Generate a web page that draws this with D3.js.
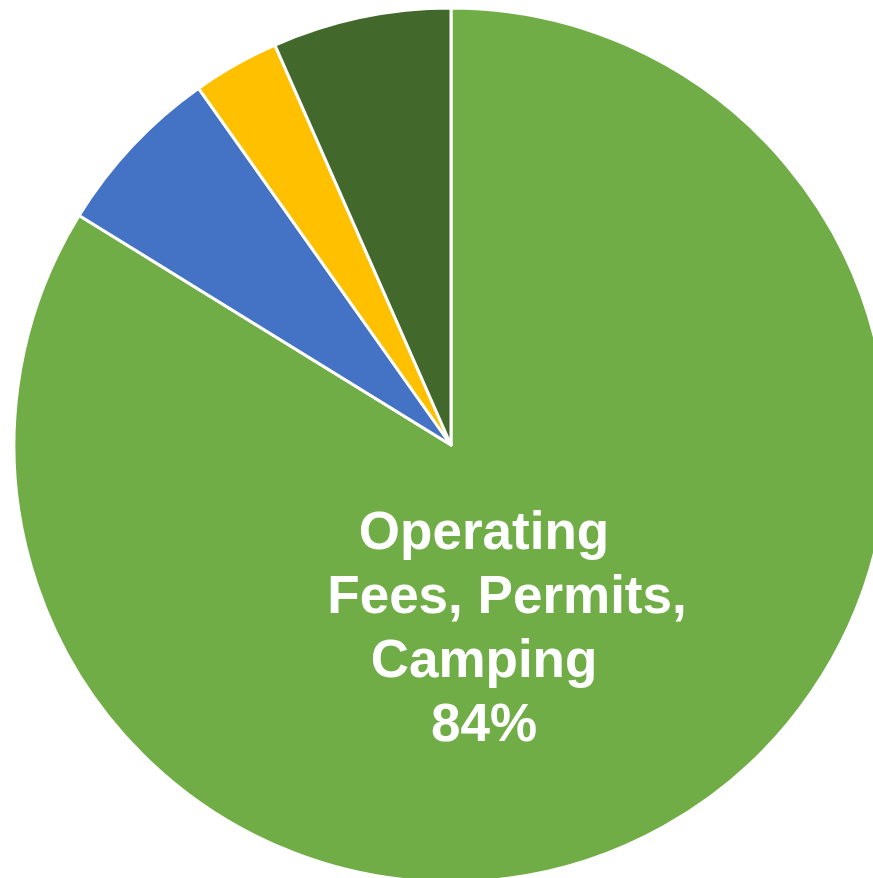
<!DOCTYPE html>
<html>
<head>
<meta charset="utf-8">
<script src="https://cdn.jsdelivr.net/npm/d3@7"></script>
<style>
  html, body { margin: 0; padding: 0; background: #ffffff; overflow: hidden; }
  svg { display: block; }
</style>
</head>
<body>
<svg id="chart" width="873" height="878"></svg>
<script>
// Data
const categories = ["Operating Fees, Permits, Camping", "Category 2", "Category 3", "Category 4"];
const values = [83.8, 6.4, 3.2, 6.6];
const colors = ["#70AD47", "#4472C4", "#FFC000", "#43682B"];
const labelLines = ["Operating", "Fees, Permits,", "Camping"];

const svg = d3.select("#chart");
const cx = 451, cy = 445, radius = 437;

const data = categories.map((c, i) => ({ name: c, value: values[i], color: colors[i] }));
const pie = d3.pie().value(d => d.value).sort(null).startAngle(0).endAngle(2 * Math.PI);
const arc = d3.arc().innerRadius(0).outerRadius(radius);

const g = svg.append("g").attr("transform", `translate(${cx},${cy})`);
const arcs = pie(data);

g.selectAll("path.slice")
  .data(arcs)
  .enter().append("path")
  .attr("class", "slice")
  .attr("d", arc)
  .attr("fill", d => d.data.color)
  .attr("stroke", "#ffffff")
  .attr("stroke-width", 3)
  .attr("stroke-linejoin", "round");

// Label for the main slice
const total = d3.sum(values);
const pct = Math.round(values[0] / total * 100) + "%";
const lines = labelLines.concat([pct]);
const lineDx = [0, 23, 0, 0];
const label = g.append("text")
  .attr("fill", "#ffffff")
  .attr("font-family", "'Liberation Sans', Arial, sans-serif")
  .attr("font-weight", "bold")
  .attr("font-size", 53)
  .attr("text-anchor", "middle");
lines.forEach((t, i) => {
  label.append("tspan")
    .attr("x", 33 + lineDx[i])
    .attr("y", 104 + i * 64)
    .text(t);
});
</script>
</body>
</html>
